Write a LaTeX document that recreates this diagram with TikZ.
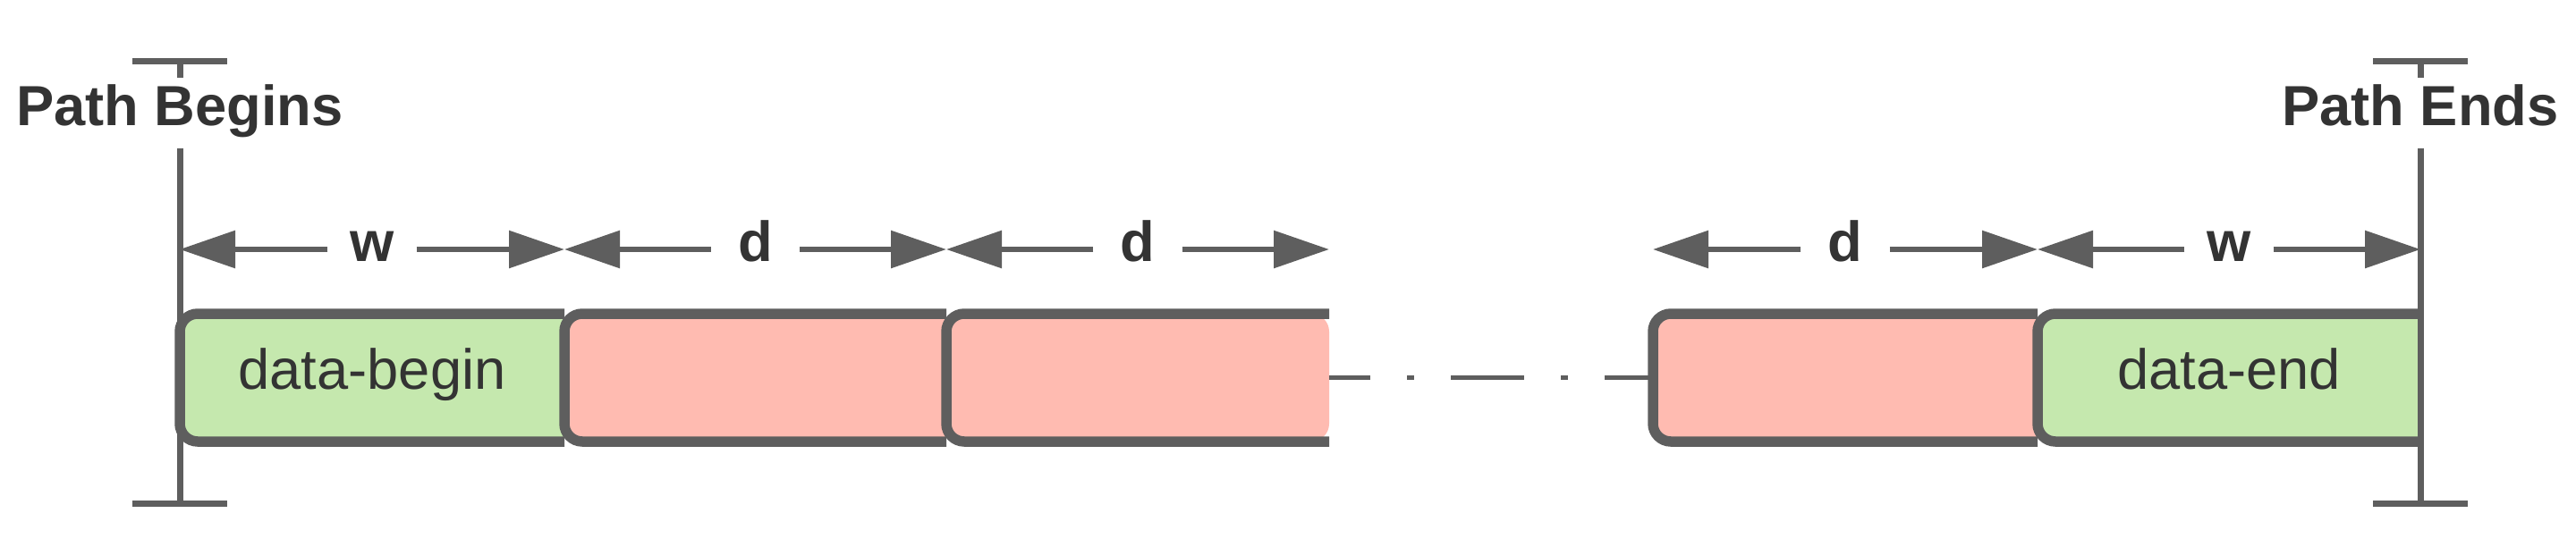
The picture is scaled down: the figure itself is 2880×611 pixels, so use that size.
\documentclass[tikz,border=0pt]{standalone}
\usepackage{fontspec}
\setmainfont{Liberation Sans}
\usetikzlibrary{arrows.meta}
\definecolor{edge}{HTML}{5E5E5E}
\definecolor{txt}{HTML}{333333}
\definecolor{gfill}{HTML}{C5E8AE}
\definecolor{pfill}{HTML}{FFBBB1}
\begin{document}
\begin{tikzpicture}[x=0.1mm,y=-0.1mm,
  bar/.style={edge, line width=0.7mm},
  vline/.style={edge, line width=0.7mm},
  dimarr/.style={edge, line width=0.6mm, -{Triangle[length=6.2mm,width=4.1mm]}},
  dimlab/.style={text=txt, font=\fontsize{18}{21}\selectfont\bfseries, inner sep=0pt,
                 minimum width=9.8mm, text height=3.6mm, text depth=1.0mm},
  endlab/.style={text=txt, font=\fontsize{18}{21}\selectfont\bfseries, inner sep=0pt,
                 text height=5.2mm, text depth=2.5mm, anchor=base},
  boxlab/.style={text=txt, font=\fontsize{18}{21}\selectfont, inner sep=0pt, anchor=base},
  border/.style={edge, line width=1.15mm, rounded corners=2mm},
  dashdot/.style={edge, line width=0.5mm, dash pattern=on 8.2mm off 4.1mm on 0.8mm off 4.1mm, dash phase=3.6mm}
]
\useasboundingbox (0,0) rectangle (2880,611);

% ---- boxes ----
% box 1 (green)
\fill[gfill, rounded corners=2mm] (201,351) rectangle (631,494);
\fill[gfill] (231,351) rectangle (631,494);
\draw[border] (631,351) -- (201,351) -- (201,494) -- (631,494);
% box 2 (pink)
\fill[pfill, rounded corners=2mm] (631,351) rectangle (1058,494);
\fill[pfill] (661,351) rectangle (1058,494);
\draw[border] (1058,351) -- (631,351) -- (631,494) -- (1058,494);
% box 3 (pink, open on the right)
\fill[pfill, rounded corners=2mm] (1058,351) rectangle (1486,494);
\draw[border] (1486,351) -- (1058,351) -- (1058,494) -- (1486,494);
% box 4 (pink)
\fill[pfill, rounded corners=2mm] (1848,351) rectangle (2278,494);
\fill[pfill] (1878,351) rectangle (2278,494);
\draw[border] (2278,351) -- (1848,351) -- (1848,494) -- (2278,494);
% box 5 (green)
\fill[gfill, rounded corners=2mm] (2278,351) rectangle (2706,494);
\fill[gfill] (2308,351) rectangle (2706,494);
\draw[border] (2706,351) -- (2278,351) -- (2278,494) -- (2706,494);

\node[boxlab] (db) at (416,435) {data-begin};
\node[boxlab] (de) at (2492,435) {data-end};

% ---- gap between the boxes ----
\coordinate (g1) at (1486,422);
\coordinate (g2) at (1848,422);
\draw[dashdot] (g1) -- (g2);

% ---- dimension arrows ----
\coordinate (e0) at (201,279);
\coordinate (e1) at (631,279);
\coordinate (e2) at (1058,279);
\coordinate (e3) at (1486,279);
\coordinate (e4) at (1848,279);
\coordinate (e5) at (2278,279);
\coordinate (e6) at (2706,279);
\node[dimlab] (l1) at (416,279) {w};
\node[dimlab] (l2) at (844.5,279) {d};
\node[dimlab] (l3) at (1272,279) {d};
\node[dimlab] (l4) at (2063,279) {d};
\node[dimlab] (l5) at (2492,279) {w};
\draw[dimarr] (l1.west) -- (e0);
\draw[dimarr] (l1.east) -- (e1);
\draw[dimarr] (l2.west) -- (e1);
\draw[dimarr] (l2.east) -- (e2);
\draw[dimarr] (l3.west) -- (e2);
\draw[dimarr] (l3.east) -- (e3);
\draw[dimarr] (l4.west) -- (e4);
\draw[dimarr] (l4.east) -- (e5);
\draw[dimarr] (l5.west) -- (e5);
\draw[dimarr] (l5.east) -- (e6);

% ---- path begin / end markers ----
\node[endlab] (pb) at (201,140) {Path Begins};
\node[endlab] (pe) at (2706,140) {Path Ends};
\coordinate (pbt) at (201,68);
\coordinate (pbb) at (201,563);
\coordinate (pet) at (2706,68);
\coordinate (peb) at (2706,563);
\draw[bar] ([xshift=-5.3mm]pbt) -- ([xshift=5.3mm]pbt);
\draw[bar] ([xshift=-5.3mm]pbb) -- ([xshift=5.3mm]pbb);
\draw[bar] ([xshift=-5.3mm]pet) -- ([xshift=5.3mm]pet);
\draw[bar] ([xshift=-5.3mm]peb) -- ([xshift=5.3mm]peb);
\draw[vline] (pbt) -- (pb.north);
\draw[vline] (pb.south) -- (pbb);
\draw[vline] (pet) -- (pe.north);
\draw[vline] (pe.south) -- (peb);
\end{tikzpicture}
\end{document}
